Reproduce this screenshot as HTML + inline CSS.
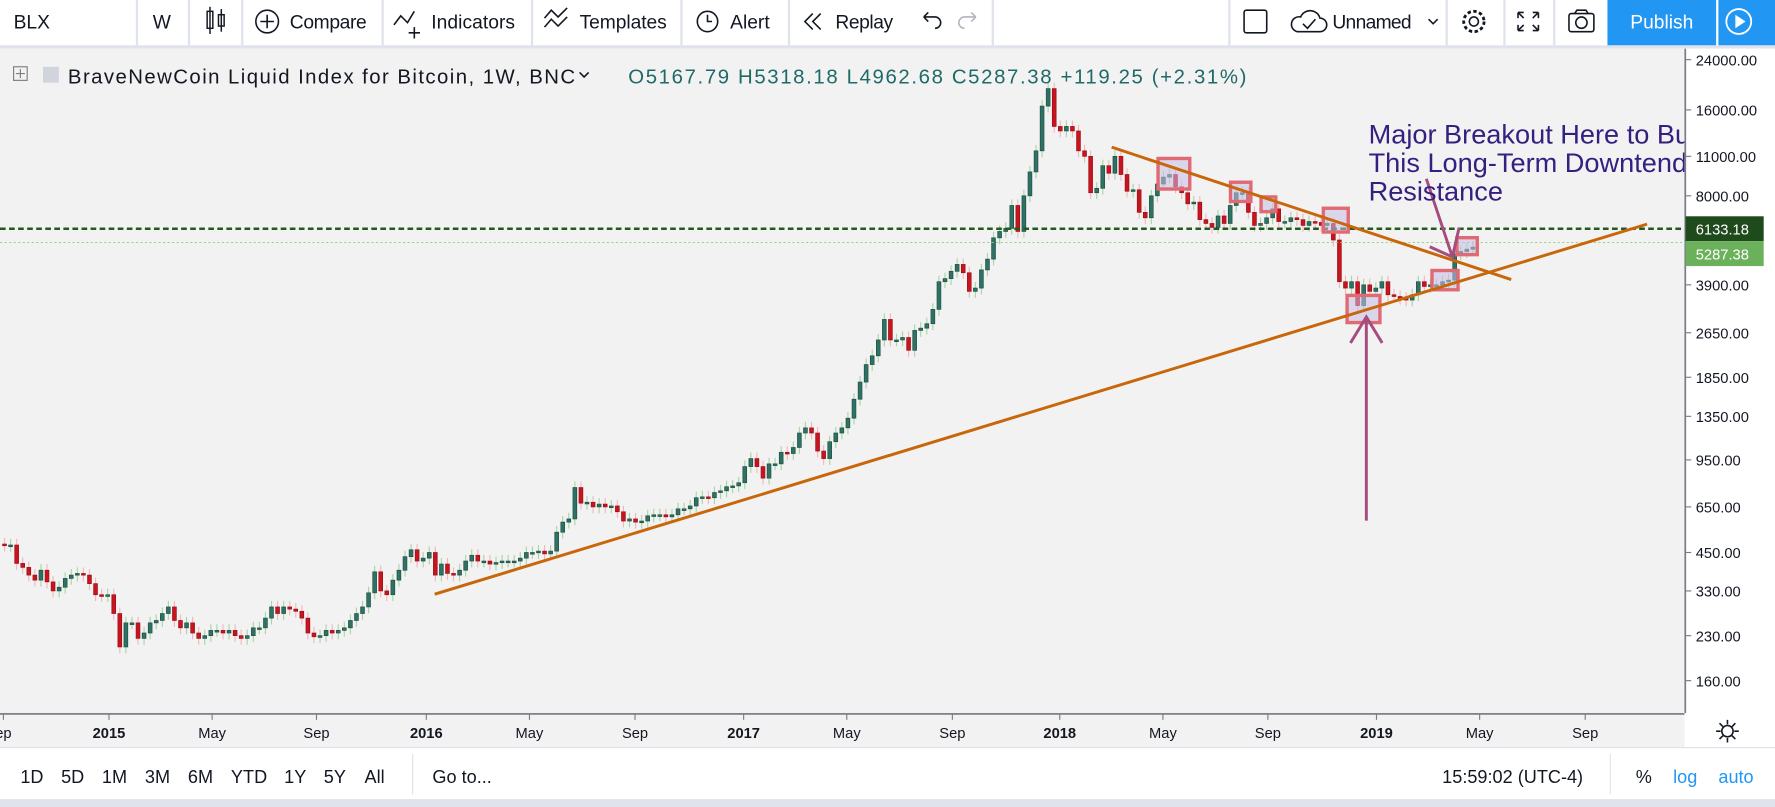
<!DOCTYPE html>
<html><head><meta charset="utf-8"><style>
html,body{margin:0;padding:0;width:1775px;height:807px;overflow:hidden;background:#fff}
svg{display:block}
text{font-family:"Liberation Sans",sans-serif}
</style></head><body>
<svg id="root" width="1775" height="807" viewBox="0 0 1568 713" preserveAspectRatio="none" xmlns="http://www.w3.org/2000/svg">
<defs><clipPath id="plotclip"><rect x="0" y="43" width="1488" height="587"/></clipPath></defs>
<g>
<rect x="0" y="0" width="1568" height="41" fill="#fff"/>
<rect x="0" y="40" width="1568" height="3" fill="#e0e3eb"/>
<g fill="#e0e3eb">
<rect x="120" y="0" width="2" height="40"/><rect x="166" y="0" width="2" height="40"/><rect x="213" y="0" width="2" height="40"/><rect x="337" y="0" width="2" height="40"/><rect x="469" y="0" width="2" height="40"/><rect x="601" y="0" width="2" height="40"/><rect x="696" y="0" width="2" height="40"/><rect x="876" y="0" width="2" height="40"/><rect x="1085" y="0" width="2" height="40"/><rect x="1277" y="0" width="2" height="40"/><rect x="1328" y="0" width="2" height="40"/><rect x="1372" y="0" width="2" height="40"/>
</g>
<text x="12" y="25" font-size="17" fill="#131722">BLX</text>
<text x="135" y="25" font-size="17" fill="#131722">W</text>
<g stroke="#131722" fill="none" stroke-width="1.3"><rect x="183" y="10" width="5" height="15"/><rect x="193" y="13" width="5" height="10"/><line x1="185.5" y1="6" x2="185.5" y2="30"/><line x1="195.5" y1="8" x2="195.5" y2="28"/></g>
<g><circle cx="236" cy="19" r="10" fill="none" stroke="#131722" stroke-width="1.4"/><path d="M236 13v12M230 19h12" stroke="#131722" stroke-width="1.4"/><text x="256" y="25" font-size="17" fill="#131722" textLength="68">Compare</text></g>
<g><path d="M348 22l6-8 6 6 6-10" fill="none" stroke="#131722" stroke-width="1.4"/><path d="M366 24v10M361 29h10" stroke="#131722" stroke-width="1.4"/><text x="381" y="25" font-size="17" fill="#131722" textLength="74">Indicators</text></g>
<g><path d="M481 16l6-7 6 6 8-8M481 24l6-7 6 6 8-8" fill="none" stroke="#131722" stroke-width="1.4"/><text x="512" y="25" font-size="17" fill="#131722" textLength="77">Templates</text></g>
<g><circle cx="625" cy="19" r="9" fill="none" stroke="#131722" stroke-width="1.4"/><path d="M625 13v6h4" fill="none" stroke="#131722" stroke-width="1.4"/><text x="645" y="25" font-size="17" fill="#131722">Alert</text></g>
<g><path d="M718 12l-7 7 7 7M725 12l-7 7 7 7" fill="none" stroke="#131722" stroke-width="1.4"/><text x="738" y="25" font-size="17" fill="#131722" textLength="51">Replay</text></g>
<path d="M816 15h10a5 5 0 0 1 0 10M816 15l4-4M816 15l4 4" fill="none" stroke="#131722" stroke-width="1.4"/>
<path d="M862 15h-10a5 5 0 0 0 0 10M862 15l-4-4M862 15l-4 4" fill="none" stroke="#b2b5be" stroke-width="1.4"/>
<rect x="1099" y="9" width="20" height="20" rx="2" fill="none" stroke="#131722" stroke-width="1.4"/>
<g><path d="M1146 28h20a6 6 0 0 0 0-12 9 9 0 0 0-17-1 6 6 0 0 0-3 13z" fill="none" stroke="#131722" stroke-width="1.4"/><path d="M1151 21l4 4 7-8" fill="none" stroke="#131722" stroke-width="1.4"/><text x="1177" y="25" font-size="17" fill="#131722" textLength="70">Unnamed</text><path d="M1262 17l4 4 4-4" fill="none" stroke="#131722" stroke-width="1.4"/></g>
<g><circle cx="1302" cy="19" r="9" fill="none" stroke="#131722" stroke-width="2.5" stroke-dasharray="3 2.2"/><circle cx="1302" cy="19" r="4" fill="none" stroke="#131722" stroke-width="1.4"/></g>
<path d="M1341 11v5M1341 11h5M1359 11v5M1359 11h-5M1341 27v-5M1341 27h5M1359 27v-5M1359 27h-5M1341 11l5 5M1359 11l-5 5M1341 27l5-5M1359 27l-5-5" stroke="#131722" stroke-width="1.4"/>
<g><rect x="1386" y="12" width="22" height="16" rx="2" fill="none" stroke="#131722" stroke-width="1.4"/><circle cx="1397" cy="20" r="5" fill="none" stroke="#131722" stroke-width="1.4"/><path d="M1391 12l2-3h8l2 3" fill="none" stroke="#131722" stroke-width="1.4"/></g>
<g><rect x="1420" y="0" width="96" height="40" fill="#2196f3"/><text x="1468" y="25" font-size="17" fill="#fff" text-anchor="middle">Publish</text></g>
<g><rect x="1518" y="0" width="50" height="40" fill="#2196f3"/><circle cx="1536" cy="19" r="11" fill="none" stroke="#fff" stroke-width="1.6"/><path d="M1533 13v12l9-6z" fill="#fff"/></g>
</g>
<g>
<rect x="0" y="43" width="1488" height="587" fill="#f2f2f2"/>
<g id="candles"></g>
<g id="annot" clip-path="url(#plotclip)"></g>
</g>
<g>
<rect x="12" y="59" width="12" height="12" fill="none" stroke="#7d7d7d" stroke-width="1"/><path d="M18 61v8M14 65h8" stroke="#7d7d7d"/>
<rect x="38" y="59" width="14" height="14" fill="#d1d4dc"/>
<text x="60" y="74" font-size="18" fill="#131722" textLength="448">BraveNewCoin Liquid Index for Bitcoin, 1W, BNC</text>
<path d="M512 64l4 4 4-4" fill="none" stroke="#131722" stroke-width="1.4"/>
<text x="555" y="74" font-size="18" fill="#1f6a67" textLength="546">O5167.79  H5318.18  L4962.68  C5287.38  +119.25 (+2.31%)</text>
</g>
<g id="yaxis"><rect x="1488" y="43" width="80" height="587" fill="#fff"/><rect x="1488" y="43" width="1.5" height="617" fill="#787b86"/></g>
<g id="xaxis"><rect x="0" y="630" width="1488" height="30" fill="#f2f2f2"/><rect x="0" y="630" width="1488" height="1.5" fill="#787b86"/><rect x="1488" y="630" width="80" height="30" fill="#fff"/></g>
<path d="M1526 636v4M1526 652v4M1516 646h4M1532 646h4M1519 639l3 3M1533 653l-3-3M1519 653l3-3M1533 639l-3 3" stroke="#131722" stroke-width="1.4"/>
<circle cx="1526" cy="646" r="5" fill="none" stroke="#131722" stroke-width="1.4"/>
<g>
<rect x="0" y="661" width="1568" height="46" fill="#fff"/>
<rect x="0" y="660" width="1568" height="1" fill="#e0e3eb"/>
<rect x="0" y="706" width="1568" height="7" fill="#e0e3eb"/>
<g font-size="16" fill="#131722">
<text x="18" y="692">1D</text>
<text x="54" y="692">5D</text>
<text x="90" y="692">1M</text>
<text x="128" y="692">3M</text>
<text x="166" y="692">6M</text>
<text x="204" y="692">YTD</text>
<text x="251" y="692">1Y</text>
<text x="286" y="692">5Y</text>
<text x="322" y="692">All</text>
<text x="382" y="692">Go to...</text>
<text x="1274" y="692">15:59:02 (UTC-4)</text>
<text x="1445" y="692">%</text>
<text x="1478" y="692" fill="#2196f3">log</text>
<text x="1518" y="692" fill="#2196f3">auto</text>
</g>
<rect x="364" y="666" width="1" height="36" fill="#e0e3eb"/><rect x="1422" y="666" width="1" height="36" fill="#e0e3eb"/>
</g>
</svg>
<script>
// price axis ticks
const tickValues=[160,230,330,450,650,950,1350,1850,2650,3900,8000,11000,16000,24000];
const tickLabels=["160.00","230.00","330.00","450.00","650.00","950.00","1350.00","1850.00","2650.00","3900.00","8000.00","11000.00","16000.00","24000.00"];
const timeLabels=["ep","2015","May","Sep","2016","May","Sep","2017","May","Sep","2018","May","Sep","2019","May","Sep"];
const timeWeeks=[0,17.4,34.4,51.6,69.7,86.7,104.1,122,139,156.4,174.1,191.1,208.4,226.3,243.3,260.7];
const boldLabel=[0,1,0,0,1,0,0,1,0,0,1,0,0,1,0,0];
// weekly closes Sep 2014 .. Apr 2019
const closes=[477,478,412,399,375,360,390,355,330,340,365,375,380,375,350,320,318,320,
275,210,255,255,225,235,255,260,275,290,260,245,255,235,225,230,240,240,235,240,230,225,230,245,245,265,290,275,290,285,280,265,235,228,230,240,235,240,245,260,275,290,325,385,330,320,360,390,435,460,420,430,
450,375,410,380,375,390,420,440,420,420,410,415,420,420,420,430,450,450,455,445,455,530,575,590,760,670,675,650,665,650,655,625,580,590,575,580,605,610,610,600,610,640,640,655,700,705,700,730,740,765,770,790,900,960,
900,820,920,920,1010,1000,1050,1180,1230,1180,1020,960,1100,1180,1230,1330,1550,1780,2050,2200,2500,2950,2500,2500,2550,2300,2700,2750,2850,3200,4000,4100,4350,4600,4300,3700,3800,4400,4800,5700,6000,6150,7400,6000,8000,9700,11500,16500,19000,14000,13500,
14000,13500,11500,11000,8200,8500,10200,9600,11000,9500,8300,8400,7000,6700,8000,8800,9300,9500,8600,8200,7500,7600,6600,6400,6200,6800,6400,7400,8200,8200,7000,6300,6400,6700,7200,6500,6500,6700,6600,6300,6500,6450,6300,6400,5600,4000,3800,4000,3300,3900,3700,3800,
4000,3600,3550,3500,3450,3600,4000,3850,3900,3900,4000,4050,5000,5100,5200,5287];
const lastPrice=5287.38, linePrice=6133.18;

const NS="http://www.w3.org/2000/svg";
function yScale(v){return 173+(Math.log(8000)-Math.log(v))*109.5;}
function xScale(w){return 4+w*5.36;}
function mk(tag,attrs,parent){const e=document.createElementNS(NS,tag);for(const k in attrs)e.setAttribute(k,attrs[k]);parent.appendChild(e);return e;}
const cg=document.getElementById('candles');
for(let i=0;i<closes.length;i++){
 const o=i?closes[i-1]:closes[0]*1.01,c=closes[i],up=c>=o;
 const hi=Math.max(o,c)*1.05,lo=Math.min(o,c)*0.95,x=xScale(i);
 const w=mk('line',{x1:x,x2:x,y1:yScale(hi),y2:yScale(lo),stroke:up?'#a9d6a0':'#f1b7bd','stroke-width':1},cg);
 
 
 const y1=yScale(Math.max(o,c)),y2=yScale(Math.min(o,c));
 const b=mk('rect',{x:x-1.7,y:y1,width:3.4,height:Math.max(1.5,y2-y1),fill:up?'#2f7263':'#c8141f',stroke:up?'#1d4f45':'#9b0e16','stroke-width':0.6},cg);
 
 
}
const ya=document.getElementById('yaxis');
tickValues.forEach((v,i)=>{const y=yScale(v);
 mk('line',{x1:1489,x2:1494,y1:y,y2:y,stroke:'#787b86'},ya);
 const t=mk('text',{x:1498,y:y+5,'font-size':13,fill:'#131722'},ya);t.textContent=tickLabels[i];
 
 
});
const xa=document.getElementById('xaxis');
timeLabels.forEach((s,i)=>{const x=xScale(timeWeeks[i])-1;
 mk('line',{x1:x,x2:x,y1:631,y2:636,stroke:'#787b86'},xa);
 const t=mk('text',{x:x,y:652,'font-size':13,fill:'#131722','text-anchor':'middle','font-weight':boldLabel[i]?'bold':'normal'},xa);t.textContent=s;
 
 
});
const an=document.getElementById('annot');
const yl=yScale(linePrice),yc=yScale(lastPrice)-4;
mk('line',{x1:0,x2:1488,y1:yc,y2:yc,stroke:'#8fcf7f','stroke-width':0.8,'stroke-dasharray':'2 2'},an);
mk('line',{x1:0,x2:1488,y1:yl,y2:yl,stroke:'#245a1e','stroke-width':2.2,'stroke-dasharray':'5 3'},an);
const boxes=[[1023,140,28,27],[1087,161,18,17],[1114,174,13,13],[1169,184,22,21],[1190,261,29,24],[1265,239,23,17],[1287,210,18,15]];
boxes.forEach(b=>{const r=mk('rect',{x:b[0],y:b[1],width:b[2],height:b[3],fill:'rgba(200,190,230,0.55)',stroke:'#e06a74','stroke-width':3},an);
 
 });
const tl1=mk('line',{x1:384,y1:525,x2:1455,y2:198,stroke:'#c8660a','stroke-width':2.6},an);


const tl2=mk('line',{x1:982,y1:130,x2:1335,y2:247,stroke:'#c8660a','stroke-width':2.6},an);


const a1=mk('path',{d:'M1207 460V281M1193 303L1207 280L1221 303',fill:'none',stroke:'#a64d80','stroke-width':2.6},an);


const a2=mk('path',{d:'M1260 158L1283 227M1263 218L1283 227L1289 201',fill:'none',stroke:'#a64d80','stroke-width':2.6},an);


const tx=mk('text',{x:1209,y:0,'font-size':24,fill:'#36207f'},an);


["Major Breakout Here to Buy","This Long-Term Downtend","Resistance"].forEach((s,i)=>{const sp=mk('tspan',{x:1209,y:127+i*25},tx);sp.textContent=s;});
const yg=document.getElementById('yaxis');
const b1=mk('rect',{x:1489,y:yl-11,width:69,height:22,fill:'#1e4a1c'},yg);


const t1=mk('text',{x:1498,y:yl+5,'font-size':13,fill:'#fff'},yg);t1.textContent=linePrice.toFixed(2);
const b2=mk('rect',{x:1489,y:yl+11,width:69,height:22,fill:'#6bb05a'},yg);


const t2=mk('text',{x:1498,y:yl+27,'font-size':13,fill:'#fff'},yg);t2.textContent=lastPrice.toFixed(2);
</script>
</body></html>
